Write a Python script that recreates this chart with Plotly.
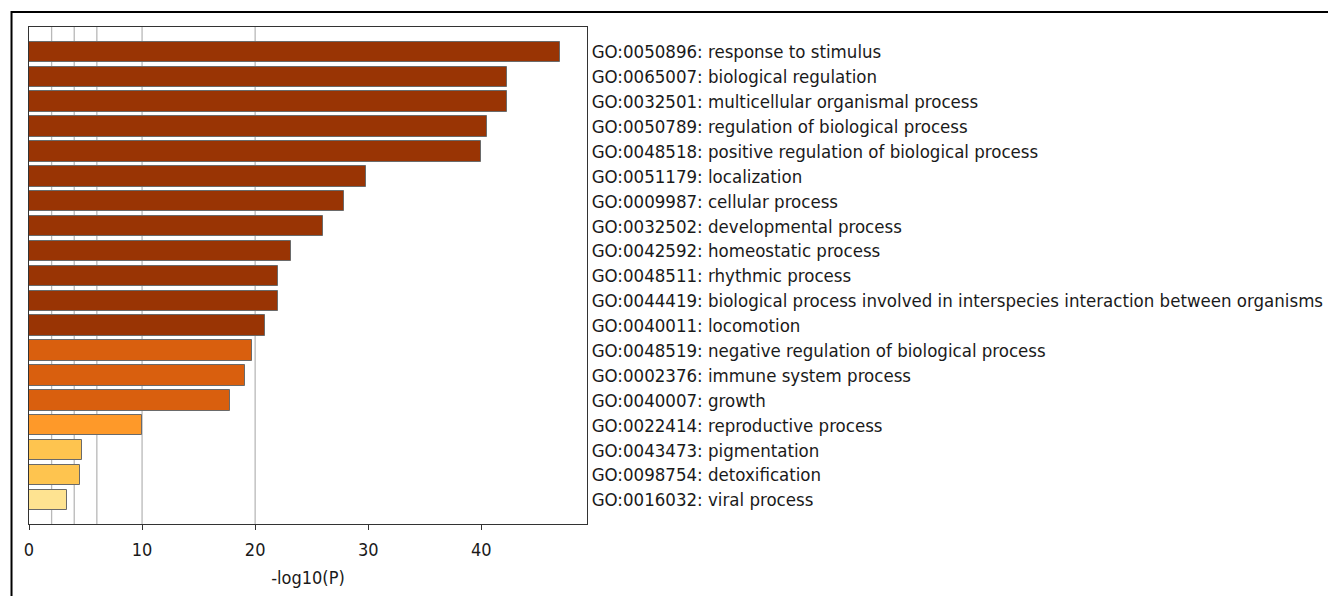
import plotly.graph_objects as go

# GO biological process terms, ordered from most to least significant
terms = [
    "GO:0050896: response to stimulus",
    "GO:0065007: biological regulation",
    "GO:0032501: multicellular organismal process",
    "GO:0050789: regulation of biological process",
    "GO:0048518: positive regulation of biological process",
    "GO:0051179: localization",
    "GO:0009987: cellular process",
    "GO:0032502: developmental process",
    "GO:0042592: homeostatic process",
    "GO:0048511: rhythmic process",
    "GO:0044419: biological process involved in interspecies interaction between organisms",
    "GO:0040011: locomotion",
    "GO:0048519: negative regulation of biological process",
    "GO:0002376: immune system process",
    "GO:0040007: growth",
    "GO:0022414: reproductive process",
    "GO:0043473: pigmentation",
    "GO:0098754: detoxification",
    "GO:0016032: viral process",
]
neg_log_p = [47.0, 42.3, 42.3, 40.5, 40.0, 29.8, 27.9, 26.0, 23.2, 22.0,
             22.0, 20.9, 19.7, 19.1, 17.8, 10.0, 4.7, 4.5, 3.4]
bar_colors = ["#993404"] * 12 + ["#D95F0E"] * 3 + ["#FE9929"] + ["#FEC44F"] * 2 + ["#FEE391"]

x_ticks = [0, 10, 20, 30, 40]
grid_lines = [2, 4, 6, 10, 20]
x_max = 49.35

FONT = "DejaVu Sans Condensed, Liberation Sans Narrow, DejaVu Sans, sans-serif"

positions = list(range(len(terms)))

fig = go.Figure(
    go.Bar(
        x=neg_log_p,
        y=positions,
        orientation="h",
        width=0.82,
        marker=dict(color=bar_colors, line=dict(color="#6a6a6a", width=1)),
        hoverinfo="x+text",
        hovertext=terms,
    )
)

# vertical reference lines drawn behind the bars
for g in grid_lines:
    fig.add_shape(
        type="line", xref="x", yref="paper", x0=g, x1=g, y0=0, y1=1,
        line=dict(color="#b8b8b8", width=1.3), layer="below",
    )

# outer frame around the figure
plot_l, plot_r, plot_t, plot_b = 28.5, 587.0, 27.0, 524.0
pw, ph = plot_r - plot_l, plot_b - plot_t


def px_x(p):
    return (p - plot_l) / pw


def px_y(p):
    return (plot_b - p) / ph


fig.add_shape(
    type="rect", xref="paper", yref="paper",
    x0=px_x(11), x1=px_x(1345), y0=px_y(12), y1=px_y(620),
    line=dict(color="black", width=2), fillcolor="rgba(0,0,0,0)", layer="above",
)

fig.update_layout(
    width=1328,
    height=596,
    margin=dict(l=plot_l, r=1328 - plot_r, t=plot_t, b=596 - plot_b, pad=0),
    paper_bgcolor="white",
    plot_bgcolor="white",
    showlegend=False,
    bargap=0,
    font=dict(family=FONT, size=18, color="#1a1a1a"),
    xaxis=dict(
        range=[0, x_max],
        tickvals=x_ticks,
        ticks="outside",
        ticklen=5,
        tickcolor="#333333",
        ticklabelstandoff=4,
        showgrid=False,
        zeroline=False,
        showline=True,
        linecolor="#333333",
        linewidth=1,
        mirror=True,
        automargin=False,
        tickfont=dict(family=FONT, size=18),
        title=dict(text="-log10(P)", font=dict(family=FONT, size=18), standoff=12),
    ),
    yaxis=dict(
        range=[18.97, -1.0],
        tickvals=positions,
        ticktext=terms,
        side="right",
        ticks="",
        showgrid=False,
        zeroline=False,
        showline=True,
        linecolor="#333333",
        linewidth=1,
        mirror=True,
        automargin=False,
        tickfont=dict(family=FONT, size=18.5),
    ),
)

fig.write_html("out.html")
